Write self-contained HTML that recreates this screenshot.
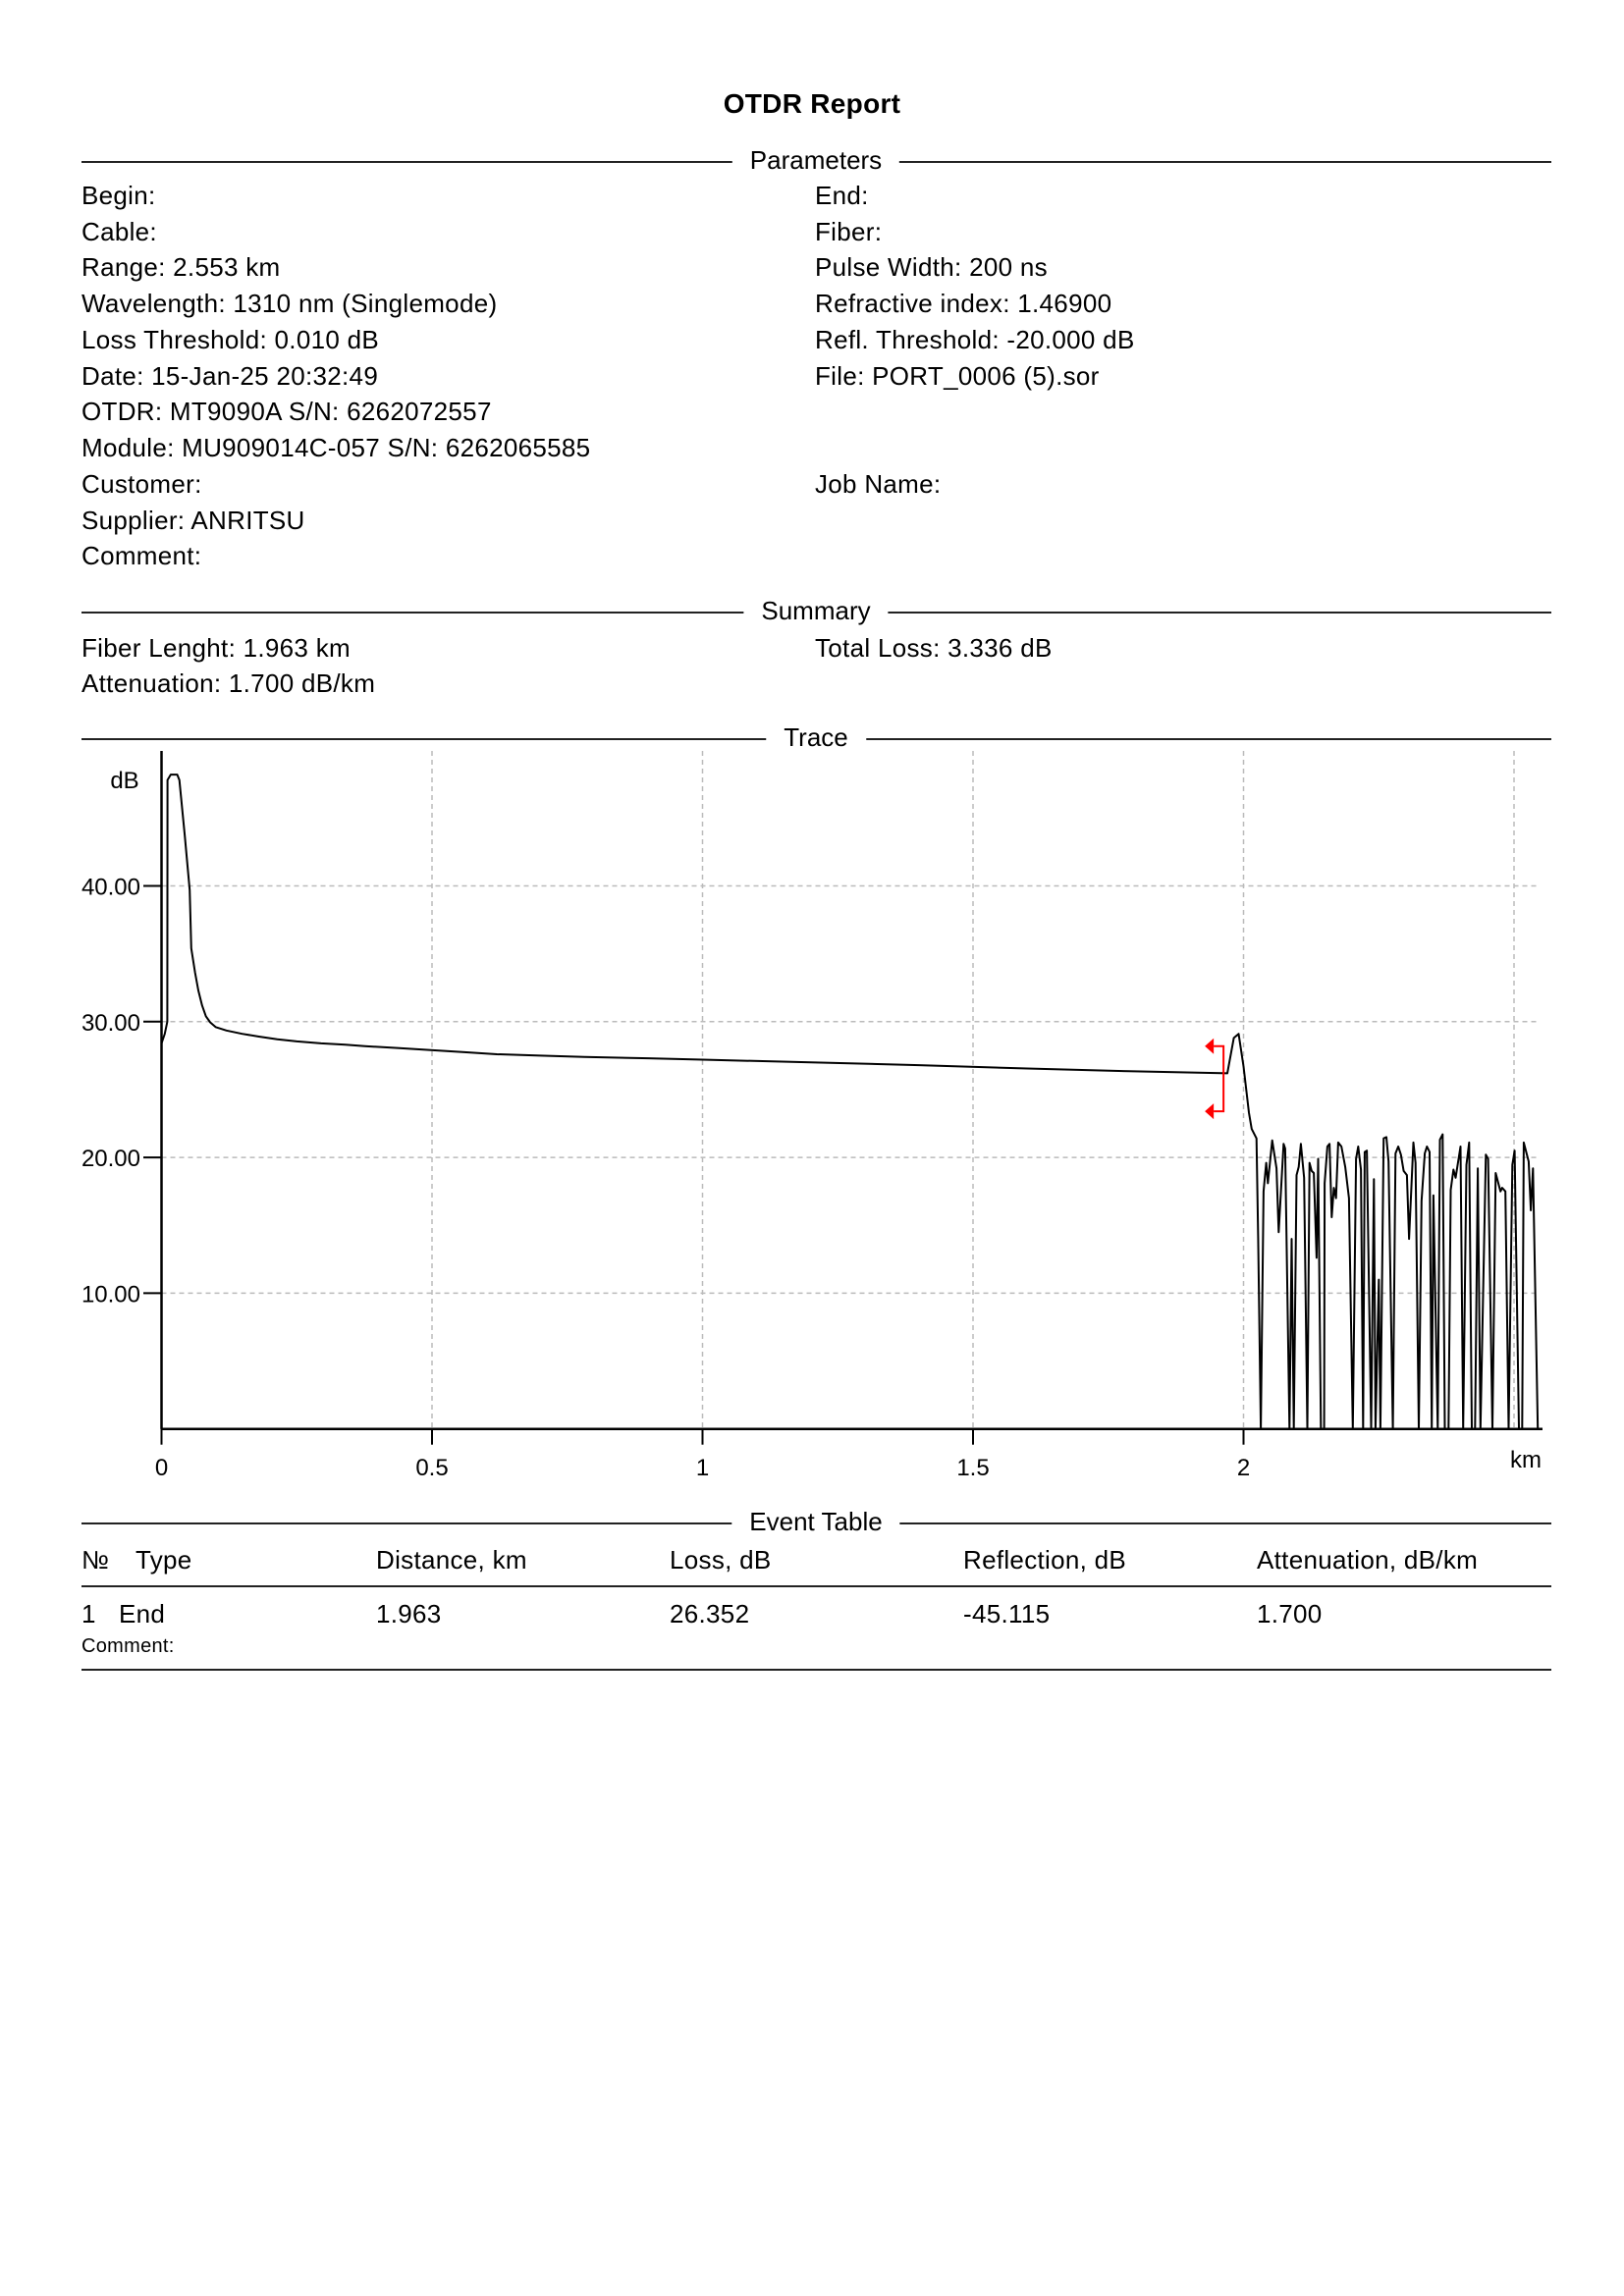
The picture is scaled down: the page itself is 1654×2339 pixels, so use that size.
<!DOCTYPE html>
<html><head><meta charset="utf-8"><style>
html,body{margin:0;padding:0;background:#fff;}
body{width:1654px;height:2339px;position:relative;overflow:hidden;font-family:"Liberation Sans",sans-serif;color:#000;}
.t{position:absolute;font-size:26px;line-height:30px;height:30px;white-space:nowrap;letter-spacing:0.3px;}
.hl{position:absolute;left:83px;width:1497px;height:0;border-top:2px solid #222;}
.hd{position:absolute;font-size:26px;line-height:30px;background:#fff;padding:0 18px;transform:translateX(-50%);white-space:nowrap;}
.s{font-size:20px;}
</style></head><body>
<div class="t" style="left:0;width:1654px;text-align:center;top:91px;font-weight:bold;font-size:28px;">OTDR Report</div>

<div class="hl" style="top:164px"></div>
<div class="hd" style="left:831px;top:148px">Parameters</div>
<div class="t" style="left:83px;top:184px">Begin:</div>
<div class="t" style="left:83px;top:221px">Cable:</div>
<div class="t" style="left:83px;top:257px">Range: 2.553 km</div>
<div class="t" style="left:83px;top:294px">Wavelength: 1310 nm (Singlemode)</div>
<div class="t" style="left:83px;top:331px">Loss Threshold: 0.010 dB</div>
<div class="t" style="left:83px;top:368px">Date: 15-Jan-25 20:32:49</div>
<div class="t" style="left:83px;top:404px">OTDR: MT9090A S/N: 6262072557</div>
<div class="t" style="left:83px;top:441px">Module: MU909014C-057 S/N: 6262065585</div>
<div class="t" style="left:83px;top:478px">Customer:</div>
<div class="t" style="left:83px;top:515px">Supplier: ANRITSU</div>
<div class="t" style="left:83px;top:551px">Comment:</div>
<div class="t" style="left:830px;top:184px">End:</div>
<div class="t" style="left:830px;top:221px">Fiber:</div>
<div class="t" style="left:830px;top:257px">Pulse Width: 200 ns</div>
<div class="t" style="left:830px;top:294px">Refractive index: 1.46900</div>
<div class="t" style="left:830px;top:331px">Refl. Threshold: -20.000 dB</div>
<div class="t" style="left:830px;top:368px">File: PORT_0006 (5).sor</div>
<div class="t" style="left:830px;top:478px">Job Name:</div>

<div class="hl" style="top:623px"></div>
<div class="hd" style="left:831px;top:607px">Summary</div>
<div class="t" style="left:83px;top:645px">Fiber Lenght: 1.963 km</div>
<div class="t" style="left:83px;top:681px">Attenuation: 1.700 dB/km</div>
<div class="t" style="left:830px;top:645px">Total Loss: 3.336 dB</div>

<div class="hl" style="top:752px"></div>
<div class="hd" style="left:831px;top:736px">Trace</div>

<svg id="chart" width="1654" height="820" style="position:absolute;left:0;top:740px" viewBox="0 740 1654 820"></svg>

<div class="hl" style="top:1551px"></div>
<div class="hd" style="left:831px;top:1535px">Event Table</div>
<div class="t" style="left:83px;top:1574px">№</div>
<div class="t" style="left:138px;top:1574px">Type</div>
<div class="t" style="left:383px;top:1574px">Distance, km</div>
<div class="t" style="left:682px;top:1574px">Loss, dB</div>
<div class="t" style="left:981px;top:1574px">Reflection, dB</div>
<div class="t" style="left:1280px;top:1574px">Attenuation, dB/km</div>
<div class="hl" style="top:1615px"></div>
<div class="t" style="left:83px;top:1629px">1</div>
<div class="t" style="left:121px;top:1629px">End</div>
<div class="t" style="left:383px;top:1629px">1.963</div>
<div class="t" style="left:682px;top:1629px">26.352</div>
<div class="t" style="left:981px;top:1629px">-45.115</div>
<div class="t" style="left:1280px;top:1629px">1.700</div>
<div class="t s" style="left:83px;top:1662px">Comment:</div>
<div class="hl" style="top:1700px"></div>

<script>
const traceKm = [0,0,0.006,0.0107,0.011,0.017,0.029,0.033,0.043,0.052,0.055,0.062,0.068,0.075,0.082,0.09,0.1,0.12,0.149,0.18,0.214,0.25,0.295,0.34,0.376,0.44,0.498,0.56,0.62,0.7,0.782,0.9,1.0,1.2,1.4,1.6,1.788,1.97,1.982,1.991,2.0,2.01,2.015,2.024,2.027,2.032,
2.037,2.042,2.045,2.053,2.061,2.065,2.074,2.077,2.085,2.089,2.093,2.098,2.102,2.106,2.112,2.118,2.122,2.126,2.130,2.135,2.138,2.143,2.149,2.150,2.155,2.159,2.163,2.167,2.171,2.175,2.181,2.188,2.195,2.202,2.208,2.212,2.217,2.221,2.224,2.228,2.236,2.241,2.244,2.250,2.253,2.259,2.264,2.268,2.276,2.281,2.286,2.291,2.296,2.302,2.306,2.314,2.318,2.324,2.329,2.335,2.339,2.344,2.348,2.351,2.359,2.363,2.368,2.372,2.379,2.383,2.388,2.392,2.401,2.406,2.412,2.417,2.422,2.428,2.433,2.438,2.448,2.452,2.460,2.466,2.475,2.478,2.484,2.490,2.497,2.501,2.509,2.515,2.518,2.527,2.531,2.535,2.544];
const traceDb = [0,28.4,29.1,30.0,47.8,48.2,48.2,47.8,43.7,39.7,35.4,33.6,32.3,31.2,30.4,29.95,29.6,29.35,29.1,28.9,28.7,28.55,28.4,28.3,28.2,28.05,27.9,27.75,27.6,27.5,27.4,27.3,27.2,27.0,26.8,26.55,26.35,26.2,28.8,29.1,26.7,23.3,22.1,21.4,14.1,0,
17.5,19.6,18.1,21.25,19.2,14.5,21.0,20.65,0,14.0,0,18.7,19.3,21.0,18.5,0,19.6,19.0,18.85,12.6,19.9,0,0,18.1,20.8,21.0,15.6,17.76,17.0,21.1,20.8,19.3,17.0,0,19.9,20.8,19.1,0,20.4,20.5,0,18.4,0,11.0,0,21.4,21.5,19.7,0,20.3,20.8,20.2,19.0,18.7,14.0,21.1,19.6,0,16.8,20.3,20.8,20.4,0,17.2,0,21.3,21.7,0,0,17.6,19.1,18.5,20.8,0,19.45,21.1,0,0,19.2,0,20.2,19.9,0,18.85,17.5,17.76,17.5,0,19.45,20.5,0,0,21.1,19.7,16.1,19.2,0];
const xTicks = [0,0.5,1,1.5,2,2.5];
const xTickLabels = ["0","0.5","1","1.5","2",""];
const yTicks = [10,20,30,40];
const yTickLabels = ["10.00","20.00","30.00","40.00"];
const eventKm = [1.963];
const eventMarkDb = [28.2,23.4];

const X0=164.5, KM=551, Y0=1455.7, DB=13.83;
const sx = k => X0 + k*KM;
const sy = d => Y0 - d*DB;
const NS='http://www.w3.org/2000/svg';
const svg=document.getElementById('chart');
function mk(tag,attrs){const e=document.createElementNS(NS,tag);for(const k in attrs)e.setAttribute(k,attrs[k]);svg.appendChild(e);return e;}

yTicks.forEach((v,i)=>{
  const g=mk('line',{x1:X0,x2:1568,y1:sy(v),y2:sy(v),stroke:'#bbb','stroke-width':1.5,'stroke-dasharray':'5,4'});
  
  
  const t=mk('line',{x1:146,x2:X0,y1:sy(v),y2:sy(v),stroke:'#000','stroke-width':2});
  
  
  const l=mk('text',{x:143,y:sy(v)+9,'text-anchor':'end','font-size':24,'font-family':'Liberation Sans, sans-serif'});
  l.textContent=yTickLabels[i];
  
  
});
xTicks.forEach((v,i)=>{
  if(v>0){
    const g=mk('line',{x1:sx(v),x2:sx(v),y1:765,y2:Y0,stroke:'#bbb','stroke-width':1.5,'stroke-dasharray':'5,4'});
    
    
  }
  if(xTickLabels[i]!==''){
    const t=mk('line',{x1:sx(v),x2:sx(v),y1:Y0,y2:Y0+16,stroke:'#000','stroke-width':2});
    
    
    const l=mk('text',{x:sx(v),y:1503,'text-anchor':'middle','font-size':24,'font-family':'Liberation Sans, sans-serif'});
    l.textContent=xTickLabels[i];
    
    
  }
});
const ya=mk('line',{x1:X0,x2:X0,y1:765,y2:Y0,stroke:'#000','stroke-width':2.5});


const xa=mk('line',{x1:X0-1,x2:1571,y1:Y0,y2:Y0,stroke:'#000','stroke-width':2.5});


const yt=mk('text',{x:127,y:803,'text-anchor':'middle','font-size':24,'font-family':'Liberation Sans, sans-serif'});
yt.textContent='dB';


const xt=mk('text',{x:1554,y:1495,'text-anchor':'middle','font-size':24,'font-family':'Liberation Sans, sans-serif'});
xt.textContent='km';



let d='';
traceKm.forEach((k,i)=>{d+=(i?'L':'M')+sx(k).toFixed(1)+' '+sy(traceDb[i]).toFixed(1)+' ';});
const p=mk('path',{d:d,fill:'none',stroke:'#000','stroke-width':2,'stroke-linejoin':'round'});



eventKm.forEach(k=>{
  const ex=sx(k), ya1=sy(eventMarkDb[0]), ya2=sy(eventMarkDb[1]);
  const m=mk('path',{d:`M${ex-10} ${ya1} H${ex} V${ya2} H${ex-10}`,fill:'none',stroke:'#f00','stroke-width':2});
  
  
  [ya1,ya2].forEach(yy=>{
    const a=mk('polygon',{points:`${ex-19},${yy} ${ex-10},${yy-8} ${ex-10},${yy+8}`,fill:'#f00'});
    
    
  });
});
</script>
</body></html>
